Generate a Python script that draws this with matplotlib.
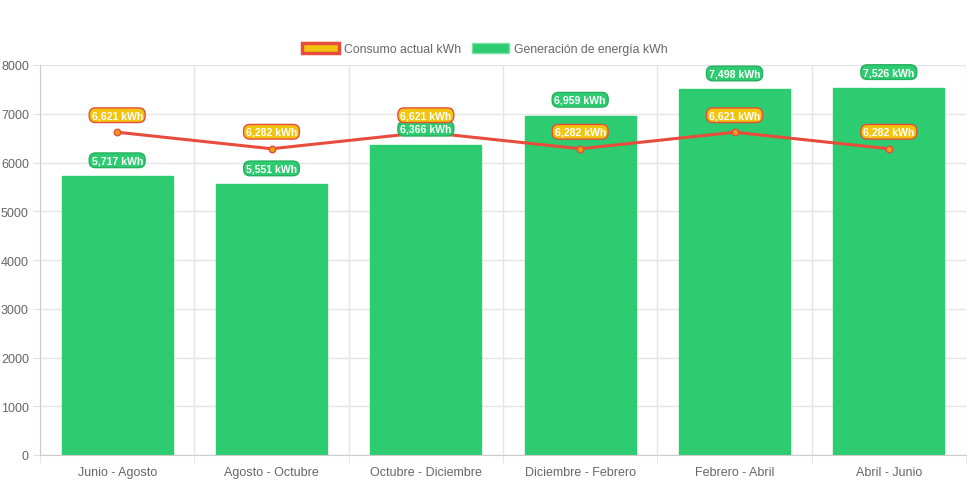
import matplotlib
matplotlib.use("Agg")
import matplotlib.pyplot as plt
from matplotlib.patches import Patch

categories = ["Junio - Agosto", "Agosto - Octubre", "Octubre - Diciembre",
              "Diciembre - Febrero", "Febrero - Abril", "Abril - Junio"]
consumo = [6621, 6282, 6621, 6282, 6621, 6282]
generacion = [5717, 5551, 6366, 6959, 7498, 7526]
yticks = [0, 1000, 2000, 3000, 4000, 5000, 6000, 7000, 8000]

plt.rcParams['font.family'] = ['Liberation Sans', 'DejaVu Sans']

fig = plt.figure(figsize=(9.71, 4.85), dpi=100)
ax = fig.add_axes([40/971, 1-456/485, 926/971, 390/485])

x = list(range(len(categories)))
ax.bar(x, generacion, width=0.72, color="#2ecc71", edgecolor="#2ecc71", zorder=2)
ax.plot(x, consumo, color="#e74c3c", lw=2.2, zorder=3)
ax.scatter(x, consumo, s=22, color="#f39c12", edgecolor="#e74c3c", linewidth=1, zorder=4)

ax.set_xlim(-0.5, len(categories)-0.5)
ax.set_ylim(0, 8000)
ax.set_yticks(yticks)
ax.set_yticklabels([str(v) for v in yticks])
ax.set_xticks(x)
ax.set_xticklabels(categories)
ax.set_xticks([i-0.5 for i in range(len(categories)+1)], minor=True)

ax.grid(axis='y', color="#e5e5e5", lw=1, zorder=0)
ax.grid(axis='x', which='minor', color="#e5e5e5", lw=1, zorder=0)
ax.tick_params(axis='x', which='major', length=0, pad=8, labelsize=9, labelcolor="#666666")
ax.tick_params(axis='x', which='minor', length=6, color="#e0e0e0")
ax.tick_params(axis='y', length=5, color="#e0e0e0", labelsize=9, labelcolor="#666666", pad=3)
for s in ['top', 'right']:
    ax.spines[s].set_visible(False)
for s in ['left', 'bottom']:
    ax.spines[s].set_color("#cccccc")

for xi, v in zip(x, generacion):
    ax.annotate(f"{v:,} kWh", (xi, v), xytext=(0, 16), textcoords='offset pixels',
                ha='center', va='center', fontsize=7.6, fontweight='bold', color='white', zorder=6,
                bbox=dict(boxstyle='round,pad=0.22,rounding_size=0.6', fc="#2ecc71", ec="#27ae60", lw=1))
for xi, v in zip(x, consumo):
    ax.annotate(f"{v:,} kWh", (xi, v), xytext=(0, 17), textcoords='offset pixels',
                ha='center', va='center', fontsize=7.6, fontweight='bold', color='white', zorder=7,
                bbox=dict(boxstyle='round,pad=0.22,rounding_size=0.6', fc="#f1c40f", ec="#e74c3c", lw=1))

handles = [Patch(facecolor="#f1c40f", edgecolor="#e74c3c", lw=2.5, label="Consumo actual kWh"),
           Patch(facecolor="#2ecc71", edgecolor="#7be0a5", lw=1, label="Generación de energía kWh")]
fig.legend(handles=handles, loc='center', bbox_to_anchor=(485/971, 1-50/485), ncol=2, frameon=False,
           fontsize=8.8, labelcolor="#666666", handlelength=3.0, handleheight=0.9, columnspacing=0.9,
           handletextpad=0.45)

fig.savefig("out.png", dpi=100)
